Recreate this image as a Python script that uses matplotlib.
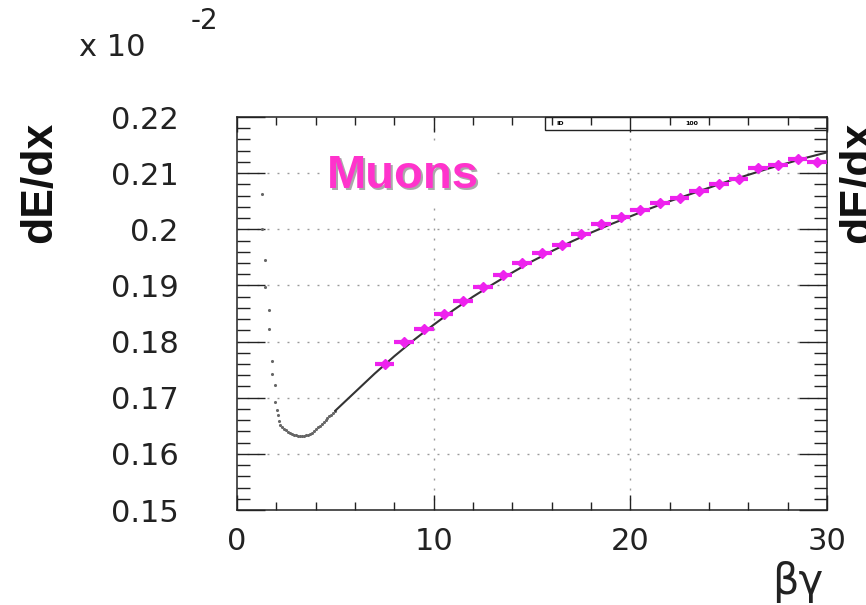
import matplotlib
matplotlib.use("Agg")
import matplotlib.pyplot as plt
from matplotlib.patches import Rectangle
from matplotlib.ticker import MultipleLocator, FixedLocator, FixedFormatter

# muon sample: beta*gamma bin centres and mean dE/dx (x 10^-2)
bg_points = [7.5, 8.5, 9.5, 10.5, 11.5, 12.5, 13.5, 14.5, 15.5, 16.5, 17.5, 18.5,
             19.5, 20.5, 21.5, 22.5, 23.5, 24.5, 25.5, 26.5, 27.5, 28.5, 29.5]
dedx_points = [0.1760, 0.1800, 0.1823, 0.1849, 0.1872, 0.1897, 0.1919, 0.1940,
               0.1958, 0.1972, 0.1992, 0.2009, 0.2022, 0.2034, 0.2047, 0.2056,
               0.2068, 0.2080, 0.2089, 0.2109, 0.2114, 0.2125, 0.2120]
bin_halfwidth = 0.5

# fitted curve
bg_fit = [5, 6, 7, 8, 9, 10, 11, 12, 13, 14, 15, 16, 17, 18, 19, 20,
          21, 22, 23, 24, 25, 26, 27, 28, 29, 30]
dedx_fit = [0.1677, 0.1710, 0.1743, 0.1774, 0.1803, 0.1830, 0.1856, 0.1880,
            0.1902, 0.1923, 0.1943, 0.1961, 0.1978, 0.1994, 0.2009, 0.2023,
            0.2037, 0.2050, 0.2062, 0.2074, 0.2086, 0.2097, 0.2108, 0.2118,
            0.2128, 0.2137]

# low beta*gamma scan around the minimum
bg_scan = [1.27, 1.27, 1.42, 1.42, 1.62, 1.62, 1.78, 1.78, 1.93, 1.93, 2.03, 2.08,
           2.13, 2.2, 2.3, 2.4, 2.5, 2.6, 2.7, 2.8, 2.9, 3.0, 3.1, 3.2, 3.3,
           3.4, 3.5, 3.6, 3.7, 3.8, 3.9, 4.0, 4.1, 4.2, 4.3, 4.4, 4.5, 4.6,
           4.7, 4.8, 4.9, 5.0]
dedx_scan = [0.2062, 0.2000, 0.1945, 0.1897, 0.1857, 0.1823, 0.1765, 0.1742,
             0.1722, 0.1692, 0.1679, 0.1669, 0.1658, 0.1652, 0.1648, 0.1645,
             0.1642, 0.1639, 0.1637, 0.1635, 0.1634, 0.1633, 0.1632, 0.1632,
             0.1632, 0.1632, 0.1633, 0.1634, 0.1636, 0.1638, 0.1641, 0.1644,
             0.1647, 0.1650, 0.1654, 0.1657, 0.1661, 0.1664, 0.1667, 0.1670,
             0.1673, 0.1676]

y_ticks = [0.15, 0.16, 0.17, 0.18, 0.19, 0.20, 0.21, 0.22]
y_labels = ["0.15", "0.16", "0.17", "0.18", "0.19", "0.2", "0.21", "0.22"]
x_ticks = [0, 10, 20, 30]
x_labels = ["0", "10", "20", "30"]

magenta = "#ee22ee"

fig = plt.figure(figsize=(8.66, 6.05), dpi=100)
ax = fig.add_axes([0.2737, 0.157, 0.6813, 0.6496])

ax.set_xlim(0, 30)
ax.set_ylim(0.15, 0.22)

# grid
for gx in [10, 20]:
    ax.axvline(gx, color="#999999", lw=1.0, ls=(0, (1.4, 5.8)), zorder=0)
for gy in y_ticks[1:-1]:
    ax.axhline(gy, color="#999999", lw=1.0, ls=(0, (1.4, 5.8)), zorder=0)

ax.scatter(bg_scan, dedx_scan, s=5, color="#666666", lw=0, zorder=2)
ax.plot(bg_fit, dedx_fit, color="#333333", lw=1.5, zorder=3)
ax.errorbar(bg_points, dedx_points, xerr=bin_halfwidth, fmt="D", ms=5.5,
            color=magenta, mec=magenta, elinewidth=3, capsize=0, zorder=4)

# ticks
ax.xaxis.set_major_locator(FixedLocator(x_ticks))
ax.xaxis.set_major_formatter(FixedFormatter(x_labels))
ax.xaxis.set_minor_locator(MultipleLocator(2))
ax.yaxis.set_major_locator(FixedLocator(y_ticks))
ax.yaxis.set_major_formatter(FixedFormatter(y_labels))
ax.yaxis.set_minor_locator(MultipleLocator(0.002))
ax.tick_params(axis="x", which="both", direction="in", top=True, bottom=True,
               width=1.0, color="#222222")
ax.tick_params(axis="x", which="major", length=11, pad=12, labelsize=22)
ax.tick_params(axis="x", which="minor", length=6)
ax.tick_params(axis="y", which="both", direction="in", left=True, right=True,
               width=1.0, color="#222222")
ax.tick_params(axis="y", which="major", length=20, pad=42, labelsize=22)
ax.tick_params(axis="y", which="minor", length=9.5)
for lab in ax.get_xticklabels() + ax.get_yticklabels():
    lab.set_color("#222222")
for sp in ax.spines.values():
    sp.set_linewidth(1.1)
    sp.set_color("#222222")

# small stats box at the top edge
ax.add_patch(Rectangle((0.522, 0.967), 0.478, 0.033, transform=ax.transAxes,
                       facecolor="white", edgecolor="#222222", lw=1.0,
                       clip_on=False, zorder=1))
ax.text(0.548, 0.983, "ID", transform=ax.transAxes, fontsize=4.5,
        fontweight="bold", ha="center", va="center", zorder=5)
ax.text(0.77, 0.983, "100", transform=ax.transAxes, fontsize=4.5,
        fontweight="bold", ha="center", va="center", zorder=5)

# Muons label with drop shadow
ax.text(0.285, 0.845, "Muons", transform=ax.transAxes, fontsize=34,
        fontweight="bold", family="Liberation Sans", color="#aaaaaa",
        ha="center", va="center", zorder=5,
        bbox=dict(facecolor="white", edgecolor="none", pad=6))
ax.text(0.281, 0.851, "Muons", transform=ax.transAxes, fontsize=34,
        fontweight="bold", family="Liberation Sans", color="#ff33cc",
        ha="center", va="center", zorder=6)

# axis titles
fig.text(0.046, 0.698, "dE/dx", rotation=90, fontsize=32, fontweight="bold",
         family="Liberation Sans", ha="center", va="center", color="#111111")
fig.text(0.968, 0.698, "dE/dx", rotation=90, fontsize=32, fontweight="bold",
         family="Liberation Sans", ha="left", va="center", color="#111111")
fig.text(0.921, 0.038, "βγ", fontsize=30, ha="center", va="center",
         color="#222222")
fig.text(0.130, 0.922, "x 10", fontsize=22, ha="center", va="center",
         color="#222222")
fig.text(0.236, 0.966, "-2", fontsize=20, ha="center", va="center",
         color="#222222")

fig.savefig("out.png", dpi=100)
